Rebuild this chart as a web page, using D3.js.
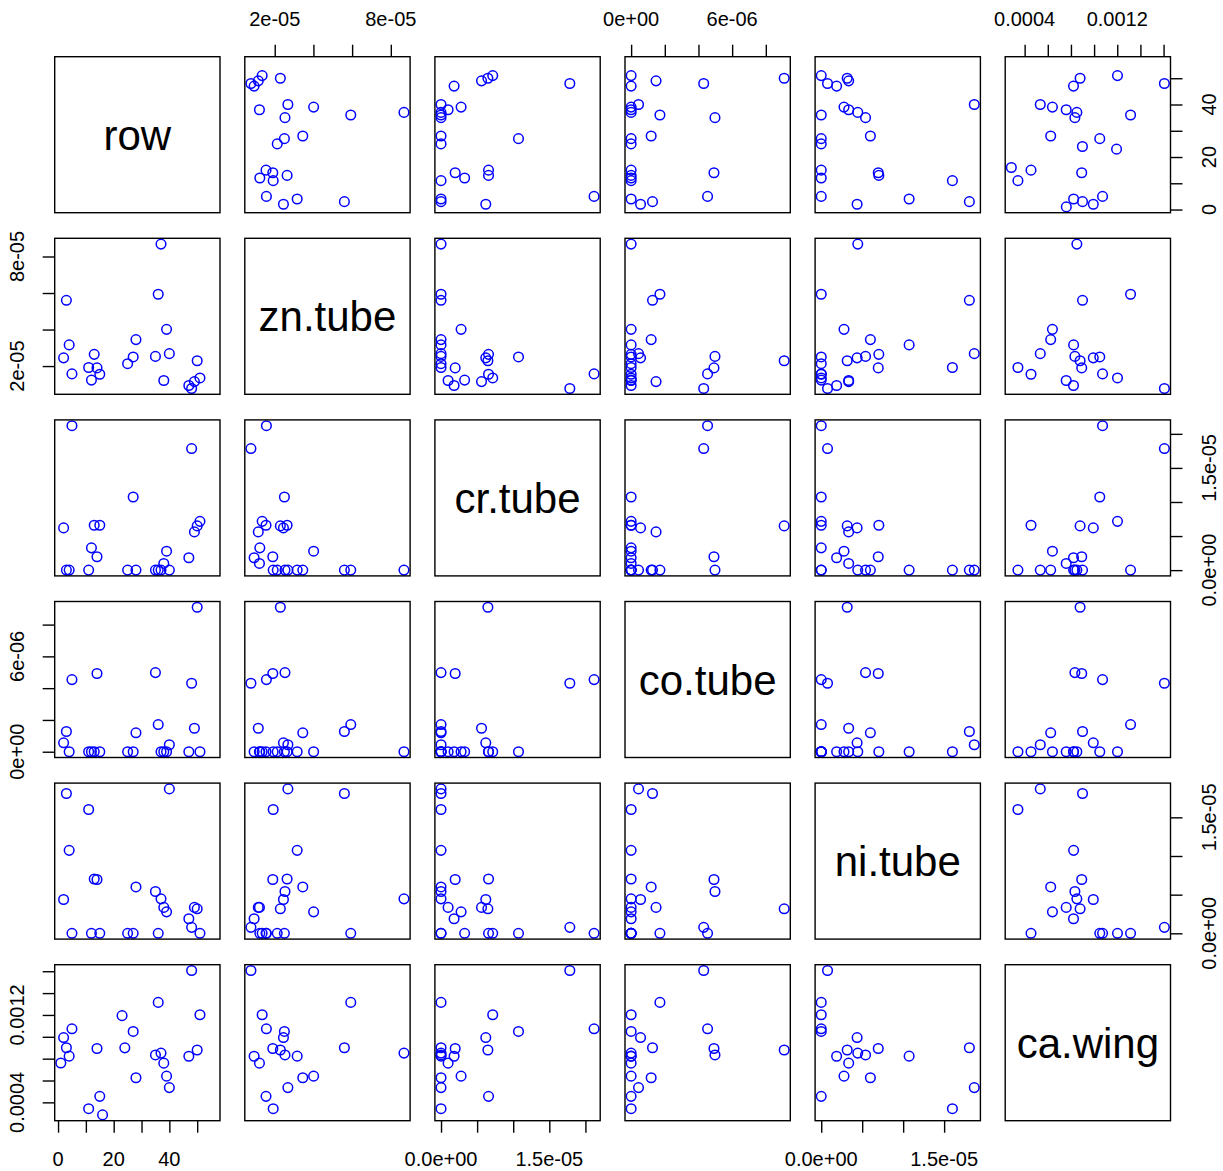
<!DOCTYPE html>
<html>
<head>
<meta charset="utf-8">
<script src="https://cdn.jsdelivr.net/npm/d3@7"></script>
<style>
body { margin: 0; background: #fff; }
text { font-family: "Liberation Sans", Arial, sans-serif; }
</style>
</head>
<body>
<div id="chart"></div>
<script>
/*
Scatterplot matrix (R pairs style) of tube and wing measurements
 */

// the data frame has 56 rows, only these rows have any value
var nRows = 56;
var obsRow = [1, 2, 3, 4, 5, 11, 12, 13, 14, 15, 16, 23, 24, 25, 27, 28,
    35, 36, 37, 38, 39, 40, 47, 48, 49, 50, 51];

var znTube = [null, 2.45e-5, 5.6e-5, 3.16e-5, 1.57e-5, 1.92e-5, 1.23e-5, 2.64e-5, 1.9e-5, 1.55e-5,
    null, null, null, 2.13e-5, 2.5e-5, 3.45e-5,
    2.53e-5, 5.93e-5, 8.68e-5, 1.21e-5, 4.01e-5, 2.68e-5, 0.935e-5, 0.77e-5, 1.15e-5, 2.29e-5, 1.35e-5];

var crTube = [null, 0.62e-5, 0, 0, 2.12e-5, 0, 0.327e-5, 0.658e-5, 0.196e-5, 0.658e-5,
    null, null, null, 0, 1.073e-5, 0,
    0, 0, 0, 0.098e-5, 0.278e-5, 0, 0.181e-5, 1.784e-5, 0.561e-5, 0.649e-5, 0.716e-5];

var coTube = [null, 0.56e-6, 1.27e-6, 0, 4.54e-6, 0, 0, 0, 4.92e-6, 0,
    null, null, null, 0, 0, 1.19e-6,
    4.98e-6, 1.71e-6, 0, 0, 0, 0.44e-6, 0, 4.31e-6, 1.48e-6, 9.09e-6, 0];

var niTube = [null, 0.438e-5, 1.808e-5, 1.073e-5, 0, 1.601e-5, 0, 0.703e-5, 0.696e-5, 0,
    null, null, null, 0, 0, 0.6e-5,
    0.541e-5, 0, 0.446e-5, 0.335e-5, 0.278e-5, 1.868e-5, 0.188e-5, 0.077e-5, 0.335e-5, 0.317e-5, 0];

var caWing = [0.00076, 0.000993, 0.0009, 0.000823, 0.001073, 0.000342, null, null, 0.000893, 0.000455,
    0.000285, 0.001194, 0.000899, null, 0.001049, 0.000625,
    0.000834, 0.001315, 0.000851, 0.000759, 0.00064, 0.000535, 0.000822, 0.001607, null, 0.000879, 0.001202];

var varNames = ["row", "zn.tube", "cr.tube", "co.tube", "ni.tube", "ca.wing"];

// axis ticks and the labels R printed (blank = tick without label)
var rowTicks = [0, 10, 20, 30, 40, 50];
var rowTickLabels = ["0", "", "20", "", "40", ""];
var znTicks = [2e-5, 4e-5, 6e-5, 8e-5];
var znTickLabels = ["2e-05", "", "", "8e-05"];
var crTicks = [0, 5e-6, 1e-5, 1.5e-5, 2e-5];
var crTickLabels = ["0.0e+00", "", "", "1.5e-05", ""];
var coTicks = [0, 2e-6, 4e-6, 6e-6, 8e-6];
var coTickLabels = ["0e+00", "", "", "6e-06", ""];
var niTicks = [0, 5e-6, 1e-5, 1.5e-5];
var niTickLabels = ["0.0e+00", "", "", "1.5e-05"];
var caTicks = [0.0004, 0.0006, 0.0008, 0.0010, 0.0012, 0.0014, 0.0016];
var caTickLabels = ["0.0004", "", "", "", "0.0012", "", ""];

var rowValues = obsRow;
var columns = [rowValues, znTube, crTube, coTube, niTube, caWing];
var ticks = [rowTicks, znTicks, crTicks, coTicks, niTicks, caTicks];
var tickLabels = [rowTickLabels, znTickLabels, crTickLabels, coTickLabels, niTickLabels, caTickLabels];

var width = 1223, height = 1171;
var panelW = 165.3, panelH = 156;
var x0 = 54.7, y0 = 56.7, stepX = 190.1, stepY = 181.6;
var nVar = varNames.length;

// R extends each range by 4% on both sides
function rDomain(values) {
    var ext = d3.extent(values.filter(function(v) { return v !== null; }));
    var pad = (ext[1] - ext[0]) * 0.04;
    return [ext[0] - pad, ext[1] + pad];
}

var domains = columns.map(function(c, i) {
    if (i === 0) return rDomain([1, nRows]);
    return rDomain(c);
});

function xScale(i, col) {
    return d3.scaleLinear().domain(domains[i]).range([x0 + col * stepX, x0 + col * stepX + panelW]);
}
function yScale(i, row) {
    return d3.scaleLinear().domain(domains[i]).range([y0 + row * stepY + panelH, y0 + row * stepY]);
}

var svg = d3.select("#chart")
    .append("svg")
    .attr("width", width)
    .attr("height", height);

svg.append("rect")
    .attr("width", width)
    .attr("height", height)
    .style("fill", "white");

for (var r = 0; r < nVar; r++) {
    for (var c = 0; c < nVar; c++) {
        var px = x0 + c * stepX, py = y0 + r * stepY;
        var g = svg.append("g");

        if (r === c) {
            g.append("text")
                .attr("x", px + panelW / 2)
                .attr("y", py + panelH / 2 + 15)
                .attr("text-anchor", "middle")
                .style("font-size", "42px")
                .text(varNames[r]);
        } else {
            var xs = xScale(c, c), ys = yScale(r, r);
            var pts = obsRow.map(function(d, k) {
                return { x: columns[c][k], y: columns[r][k] };
            }).filter(function(d) { return d.x !== null && d.y !== null; });

            g.selectAll("circle")
                .data(pts)
                .enter()
                .append("circle")
                .attr("cx", function(d) { return xs(d.x); })
                .attr("cy", function(d) { return ys(d.y); })
                .attr("r", 4.8)
                .style("fill", "none")
                .style("stroke", "#0000ff")
                .style("stroke-width", 1.5);
        }

        g.append("rect")
            .attr("x", px)
            .attr("y", py)
            .attr("width", panelW)
            .attr("height", panelH)
            .style("fill", "none")
            .style("stroke", "black")
            .style("stroke-width", 1.4);
    }
}

// axes on alternating sides, like pairs()
var tickLen = 12, labelOff = 38;

function drawAxis(i, side) {
    var tv = ticks[i], tl = tickLabels[i];
    var scale, axis, pos;
    if (side === "top" || side === "bottom") {
        scale = xScale(i, i);
        pos = side === "top" ? y0 : y0 + (nVar - 1) * stepY + panelH;
        axis = side === "top" ? d3.axisTop(scale) : d3.axisBottom(scale);
    } else {
        scale = yScale(i, i);
        pos = side === "left" ? x0 : x0 + (nVar - 1) * stepX + panelW;
        axis = side === "left" ? d3.axisLeft(scale) : d3.axisRight(scale);
    }
    axis.tickValues(tv).tickSize(tickLen).tickFormat("");

    var horiz = side === "top" || side === "bottom";
    var ax = svg.append("g")
        .attr("transform", horiz ? "translate(0," + pos + ")" : "translate(" + pos + ",0)")
        .call(axis);
    ax.select(".domain").remove();
    ax.selectAll(".tick line").style("stroke", "black").style("stroke-width", 1.4);

    var sign = (side === "top" || side === "left") ? -1 : 1;

    tv.forEach(function(v, k) {
        if (!tl[k]) return;
        var p = scale(v);
        var cx = horiz ? p : sign * labelOff;
        var cy = horiz ? sign * labelOff : p;
        ax.append("text")
            .attr("transform", "translate(" + cx + "," + cy + ")" + (horiz ? "" : " rotate(-90)"))
            .attr("text-anchor", "middle")
            .attr("dy", "0.35em")
            .style("font-size", "20px")
            .style("fill", "black")
            .text(tl[k]);
    });
}

for (var i = 0; i < nVar; i++) {
    if (i % 2 === 1) {
        drawAxis(i, "top");
        drawAxis(i, "left");
    } else {
        drawAxis(i, "bottom");
        drawAxis(i, "right");
    }
}
</script>
</body>
</html>
